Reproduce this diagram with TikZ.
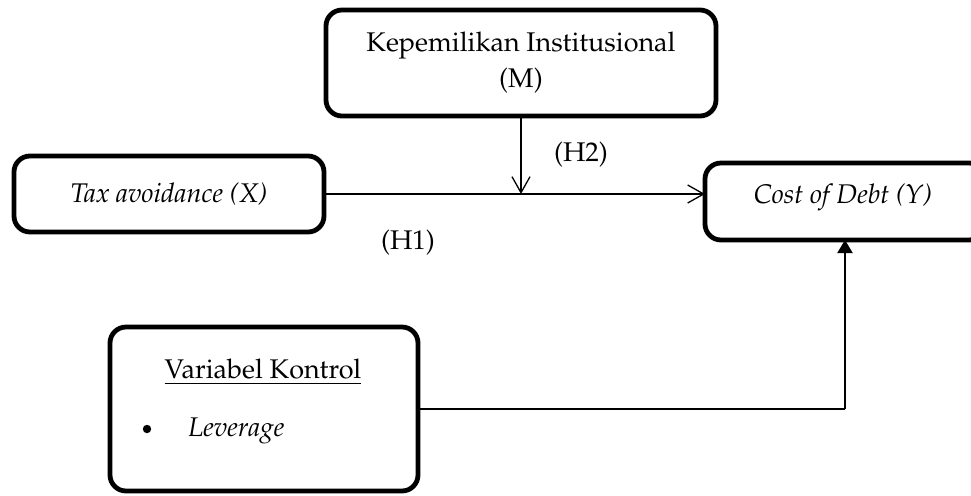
\documentclass[tikz,border=0pt]{standalone}
\usepackage[T1]{fontenc}
\usepackage{mathpazo}
\usetikzlibrary{arrows.meta}
\begin{document}
\begin{tikzpicture}[x=0.5pt,y=-0.5pt,
  box/.style={draw=black,line width=2.4pt,rounded corners=8pt,fill=white,
    inner sep=0pt,outer sep=0pt,font=\fontsize{13.5}{18}\selectfont},
  lbl/.style={inner sep=0pt,font=\fontsize{13.5}{18}\selectfont},
  dot/.style={circle,fill=black,inner sep=0pt,minimum size=4.2pt},
  thinline/.style={line width=0.65pt},
  openarrow/.style={-{Straight Barb[length=8pt,width=9pt,line width=0.65pt]}},
  filledarrow/.style={-{Triangle[length=6.5pt,width=7.5pt]}}]
\clip (0,0) rectangle (971,495);
\fill[white] (0,0) rectangle (971,495);
% boxes
\node[box,minimum width=195pt,minimum height=53pt,align=center] (m) at (521,63)
  {Kepemilikan Institusional\\(M)};
\node[box,minimum width=155pt,minimum height=38pt] (tax) at (169,194)
  {\itshape Tax avoidance (X)};
\node[box,minimum width=140pt,minimum height=38.5pt] (cost) at (845,201.5) {};
\node[lbl] (costlbl) at (843,197) {\itshape Cost of Debt (Y)};
\node[box,minimum width=154pt,minimum height=82pt] (var) at (264,409) {};
\node[lbl] (vk) at (263,372) {\underline{Variabel Kontrol}};
\node[dot] (bul) at (147,429) {};
\node[lbl,anchor=west] (lev) at (188,431) {\itshape Leverage};
% labels
\node[lbl] (h2) at (581,155) {(H2)};
\node[lbl] (h1) at (408,243) {(H1)};
% connectors
\coordinate (j) at (m.south |- tax.east);
\draw[thinline,openarrow] (tax.east) -- (tax.east -| cost.west);
\draw[thinline,openarrow] (m.south) -- (j);
\coordinate (c) at (845,409);
\draw[thinline] (var.east) -- (c);
\draw[line width=1.1pt,filledarrow] (c) -- (c |- cost.south);
\end{tikzpicture}
\end{document}
